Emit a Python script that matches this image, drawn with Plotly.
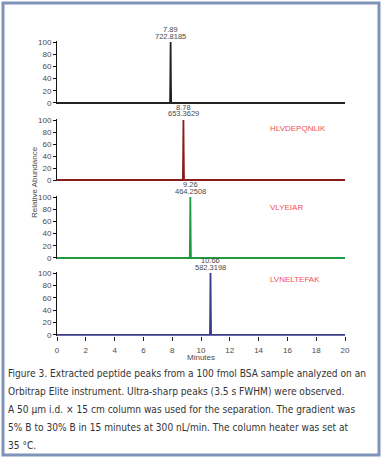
import plotly.graph_objects as go

# ---- data ----
peptides = ["YICDNQDTISSK", "HLVDEPQNLIK", "VLYEIAR", "LVNELTEFAK"]
peak_times = [7.89, 8.78, 9.26, 10.66]
peak_mz = ["722.8185", "653.3629", "464.2508", "582.3198"]
trace_colors = ["#222222", "#8b1c1c", "#1f9a3e", "#3b3b8c"]

# chromatogram points (time, relative abundance)
x1 = [0, 7.85, 7.87, 7.89, 7.91, 7.93, 20]
y1 = [0, 0, 40, 100, 40, 0, 0]
x2 = [0, 8.74, 8.76, 8.78, 8.80, 8.82, 20]
y2 = [0, 0, 40, 100, 40, 0, 0]
x3 = [0, 9.22, 9.24, 9.26, 9.28, 9.30, 20]
y3 = [0, 0, 40, 100, 40, 0, 0]
x4 = [0, 10.62, 10.64, 10.66, 10.68, 10.70, 20]
y4 = [0, 0, 40, 100, 40, 0, 0]
xs = [x1, x2, x3, x4]
ys = [y1, y2, y3, y4]

y_ticks = [0, 20, 40, 60, 80, 100]
x_ticks = [0, 2, 4, 6, 8, 10, 12, 14, 16, 18, 20]
caption = [
    "Figure 3. Extracted peptide peaks from a 100 fmol BSA sample analyzed on an",
    "Orbitrap Elite instrument. Ultra-sharp peaks (3.5 s FWHM) were observed.",
    "A 50 µm i.d. × 15 cm column was used for the separation. The gradient was",
    "5% B to 30% B in 15 minutes at 300 nL/min. The column heater was set at",
    "35 °C.",
]

W, H = 384, 459
NARROW = "Liberation Sans Narrow, Arial Narrow, Liberation Sans, sans-serif"
CAPFONT = "DejaVu Sans Condensed, Liberation Sans, sans-serif"
GREY = "#4a4a4a"

def py(p):
    return 1 - p / H

# panel pixel extents (top, bottom) of domain
panels = [(41.4, 104.2), (119.4, 181.2), (196.4, 259.2), (272.4, 336.2)]
label_y = [103, 86, 83, 89]

fig = go.Figure()
layout = dict(
    width=W, height=H, margin=dict(l=0, r=0, t=0, b=0, autoexpand=False),
    paper_bgcolor="white", plot_bgcolor="white", showlegend=False,
    font=dict(family=NARROW, color=GREY, size=8),
)
annotations = []
for i in range(4):
    n = "" if i == 0 else str(i + 1)
    fig.add_trace(go.Scatter(
        x=xs[i], y=ys[i], mode="lines",
        line=dict(color=trace_colors[i], width=1.8),
        xaxis="x" + n, yaxis="y" + n, hoverinfo="skip"))
    top, bot = panels[i]
    last = (i == 3)
    layout["xaxis" + n] = dict(
        domain=[57 / W, 345 / W], range=[0, 20], anchor="y" + n,
        showgrid=False, zeroline=False, showline=False, automargin=False,
        showticklabels=last, ticks="outside" if last else "",
        tickvals=x_ticks, ticklen=4, tickcolor="#222", tickwidth=1,
        ticklabelstandoff=2,
        tickfont=dict(family=NARROW, size=8, color=GREY),
        matches=None if i == 0 else "x",
    )
    layout["yaxis" + n] = dict(
        domain=[py(bot), py(top)], range=[-2, 101], anchor="x" + n,
        showgrid=False, zeroline=False, showline=True, linecolor="#111",
        linewidth=1, ticks="outside", ticklen=3, tickcolor="#111",
        automargin=False,
        tickvals=y_ticks, tickfont=dict(family=NARROW, size=8, color=GREY),
    )
    annotations.append(dict(
        x=peak_times[i], y=100, xref="x" + n, yref="y" + n,
        text=peak_mz[i], showarrow=False,
        yanchor="middle", xanchor="center", yshift=6,
        font=dict(family=NARROW, size=7.5, color=GREY)))
    annotations.append(dict(
        x=peak_times[i], y=100, xref="x" + n, yref="y" + n,
        text=f"{peak_times[i]:.2f}", showarrow=False,
        yanchor="middle", xanchor="center", yshift=12.5,
        font=dict(family=NARROW, size=7.5, color=GREY)))
    annotations.append(dict(
        x=14.65, y=label_y[i], xref="x" + n, yref="y" + n,
        text=peptides[i], showarrow=False, xanchor="left", yanchor="middle",
        font=dict(family=NARROW, size=8, color="#ef4f5c")))

annotations.append(dict(
    x=201 / W, y=py(357), xref="paper", yref="paper", text="Minutes",
    showarrow=False, xanchor="center", yanchor="middle",
    font=dict(family=NARROW, size=8, color=GREY)))
annotations.append(dict(
    x=34 / W, y=py(182), xref="paper", yref="paper", text="Relative Abundance",
    showarrow=False, textangle=-90, xanchor="center", yanchor="middle",
    font=dict(family=NARROW, size=8, color=GREY)))
for k, line in enumerate(caption):
    annotations.append(dict(
        x=6 / W, y=py(373 + 18 * k), xref="paper", yref="paper", text=line,
        showarrow=False, xanchor="left", yanchor="middle",
        font=dict(family=CAPFONT, size=10.1, color="#333")))

layout["annotations"] = annotations
layout["shapes"] = [dict(
    type="rect", xref="paper", yref="paper",
    x0=3 / W, x1=379 / W, y0=py(455), y1=py(3),
    line=dict(color="#7f94b8", width=3), fillcolor="rgba(0,0,0,0)")]
fig.update_layout(**layout)
fig.write_html(
    "out.html",
    config={"displayModeBar": False},
    post_script="document.body.style.margin='0px';document.body.style.overflow='hidden';",
)
